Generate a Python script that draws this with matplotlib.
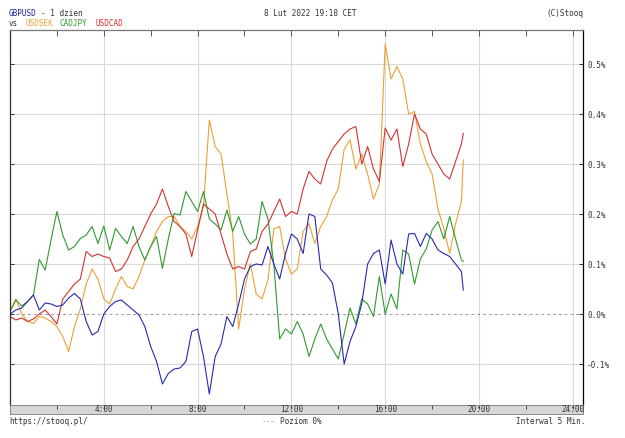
import numpy as np
import matplotlib
matplotlib.use('Agg')
import matplotlib.pyplot as plt

# hours of the trading day (15 min steps), last quote at 19:20
hours = np.r_[np.arange(0, 19.26, 0.25), 19.33]

# % change vs open
gbpusd = [0.000, 0.008, 0.012, 0.025, 0.038, 0.008, 0.022, 0.020,
          0.015, 0.018, 0.032, 0.041, 0.030, -0.015, -0.042, -0.035,
          0.000, 0.015, 0.025, 0.028, 0.018, 0.008, -0.002, -0.025,
          -0.065, -0.095, -0.140, -0.119, -0.110, -0.108, -0.095, -0.035,
          -0.030, -0.085, -0.160, -0.085, -0.060, -0.005, -0.025, 0.020,
          0.070, 0.095, 0.100, 0.098, 0.135, 0.100, 0.070, 0.121,
          0.160, 0.150, 0.121, 0.200, 0.195, 0.090, 0.078, 0.062,
          0.000, -0.100, -0.055, -0.025, 0.021, 0.100, 0.121, 0.128,
          0.060, 0.148, 0.100, 0.080, 0.160, 0.161, 0.135, 0.161,
          0.150, 0.128, 0.121, 0.115, 0.100, 0.085, 0.048]
usdsek = [0.005, 0.030, 0.000, -0.015, -0.019, -0.005, -0.008, -0.015,
          -0.025, -0.045, -0.075, -0.025, 0.010, 0.060, 0.090, 0.070,
          0.030, 0.020, 0.050, 0.075, 0.055, 0.050, 0.075, 0.108,
          0.135, 0.165, 0.185, 0.195, 0.195, 0.175, 0.165, 0.150,
          0.175, 0.215, 0.388, 0.335, 0.320, 0.240, 0.160, -0.030,
          0.050, 0.100, 0.040, 0.030, 0.068, 0.170, 0.175, 0.110,
          0.080, 0.090, 0.165, 0.181, 0.141, 0.175, 0.195, 0.228,
          0.250, 0.330, 0.348, 0.290, 0.320, 0.280, 0.230, 0.260,
          0.540, 0.470, 0.495, 0.470, 0.400, 0.405, 0.340, 0.305,
          0.280, 0.210, 0.170, 0.121, 0.180, 0.225, 0.308]
cadjpy = [0.005, 0.028, 0.016, 0.025, 0.038, 0.109, 0.088, 0.148,
          0.205, 0.158, 0.128, 0.135, 0.151, 0.158, 0.175, 0.141,
          0.176, 0.128, 0.171, 0.155, 0.141, 0.175, 0.135, 0.108,
          0.135, 0.155, 0.091, 0.150, 0.201, 0.198, 0.245, 0.225,
          0.205, 0.245, 0.190, 0.180, 0.168, 0.208, 0.165, 0.195,
          0.160, 0.140, 0.150, 0.225, 0.190, 0.100, -0.050, -0.030,
          -0.040, -0.015, -0.040, -0.085, -0.050, -0.020, -0.050, -0.070,
          -0.090, -0.040, 0.012, -0.020, 0.030, 0.020, -0.005, 0.075,
          0.000, 0.040, 0.010, 0.128, 0.120, 0.060, 0.110, 0.130,
          0.168, 0.185, 0.150, 0.195, 0.150, 0.108, 0.105]
usdcad = [-0.005, -0.012, -0.008, -0.015, -0.010, 0.000, 0.008, -0.005,
          -0.020, 0.030, 0.045, 0.060, 0.070, 0.125, 0.115, 0.120,
          0.115, 0.112, 0.085, 0.090, 0.108, 0.135, 0.150, 0.175,
          0.200, 0.220, 0.250, 0.215, 0.185, 0.175, 0.160, 0.115,
          0.168, 0.220, 0.210, 0.200, 0.160, 0.120, 0.090, 0.095,
          0.090, 0.125, 0.130, 0.165, 0.180, 0.205, 0.230, 0.195,
          0.205, 0.200, 0.250, 0.285, 0.270, 0.260, 0.305, 0.330,
          0.345, 0.360, 0.370, 0.375, 0.300, 0.335, 0.290, 0.265,
          0.372, 0.348, 0.370, 0.295, 0.340, 0.400, 0.370, 0.360,
          0.320, 0.300, 0.280, 0.270, 0.305, 0.340, 0.361]

y_ticks = [-0.1, 0.0, 0.1, 0.2, 0.3, 0.4, 0.5]
x_labels = ['4:00', '8:00', '12:00', '16:00', '20:00', '24:00']

blue, orange, green, red = '#2828b4', '#eba035', '#2f9a2f', '#d43232'
mono = 'DejaVu Sans Mono'
fs = 5.5
txt = '#333333'

W, H = 625, 438
fig = plt.figure(figsize=(W / 100, H / 100), dpi=100)

def fx(px):
    return px / W

def fy(py):
    return 1 - py / H

x_max = 573 / 23.45
ax = fig.add_axes([fx(10), fy(405), fx(573), 375 / H])
ax.set_xlim(0, x_max)
ax.set_ylim(-0.182, 0.568)

for v in y_ticks:
    if v != 0:
        ax.axhline(v, color='#d9d9d9', lw=0.8, zorder=0)
for h in range(4, 25, 4):
    ax.axvline(h, color='#d9d9d9', lw=0.8, zorder=0)
ax.axhline(0, color='#9a9a9a', lw=0.7, ls=(0, (3, 3)), zorder=0)

ax.plot(hours, usdsek, color=orange, lw=0.8)
ax.plot(hours, cadjpy, color=green, lw=0.8)
ax.plot(hours, usdcad, color=red, lw=0.8)
ax.plot(hours, gbpusd, color=blue, lw=0.8)

ax.yaxis.tick_right()
ax.set_yticks(y_ticks)
ax.set_yticklabels(['%.1f%%' % v for v in y_ticks], fontfamily=mono, fontsize=fs,
                   color=txt)
ax.tick_params(axis='y', which='both', direction='in', length=3, width=0.7,
               left=True, right=True, pad=3, colors='#333333')
ax.xaxis.tick_top()
ax.set_xticks(range(2, 25, 2))
ax.set_xticklabels([])
ax.tick_params(axis='x', direction='in', length=4, width=0.7, colors='#555555')
ax.spines['top'].set_color('#777777')
ax.spines['left'].set_color('#333333')
ax.spines['right'].set_color('#000000')
ax.spines['bottom'].set_visible(False)
for s in ['top', 'left', 'right']:
    ax.spines[s].set_linewidth(0.9)

# time band under the chart
band = fig.add_axes([fx(10), fy(414), fx(573), 9 / H])
band.set_facecolor('#d6d6d6')
band.set_xlim(0, x_max)
band.set_ylim(0, 1)
band.set_yticks([])
band.set_xticks(range(2, 25, 2))
band.set_xticklabels([])
band.tick_params(axis='x', direction='in', length=3, width=0.7, colors='#444444',
                 bottom=False, top=True)
for s in band.spines.values():
    s.set_color('#888888')
    s.set_linewidth(0.7)
for i, lab in enumerate(x_labels):
    band.text(4 * (i + 1), 0.45, lab, ha='center', va='center',
              fontfamily=mono, fontsize=fs, color=txt)

# header
fig.text(fx(9), fy(14), 'GBPUSD', color='#22229a', fontfamily=mono, fontsize=fs, va='center')
fig.text(fx(41), fy(14), '- 1 dzien', color=txt, fontfamily=mono, fontsize=fs, va='center')
fig.text(fx(9), fy(23.5), 'vs', color=txt, fontfamily=mono, fontsize=fs, va='center')
fig.text(fx(25), fy(23.5), 'USDSEK', color=orange, fontfamily=mono, fontsize=fs, va='center')
fig.text(fx(60), fy(23.5), 'CADJPY', color=green, fontfamily=mono, fontsize=fs, va='center')
fig.text(fx(95), fy(23.5), 'USDCAD', color=red, fontfamily=mono, fontsize=fs, va='center')
fig.text(fx(310), fy(13.5), '8 Lut 2022 19:18 CET', color=txt, fontfamily=mono,
         fontsize=fs, ha='center', va='center')
fig.text(fx(583), fy(13.5), '(C)Stooq', color=txt, fontfamily=mono,
         fontsize=fs, ha='right', va='center')

# footer
fig.text(fx(9), fy(422), 'https://stooq.pl/', color=txt, fontfamily=mono,
         fontsize=fs, va='center')
fig.text(fx(262), fy(422), '---', color='#aaaaaa', fontfamily=mono, fontsize=fs, va='center')
fig.text(fx(280), fy(422), 'Poziom 0%', color=txt, fontfamily=mono,
         fontsize=fs, va='center')
fig.text(fx(585), fy(422), 'Interwal 5 Min.', color=txt, fontfamily=mono,
         fontsize=fs, ha='right', va='center')

fig.savefig('out.png', dpi=100)
